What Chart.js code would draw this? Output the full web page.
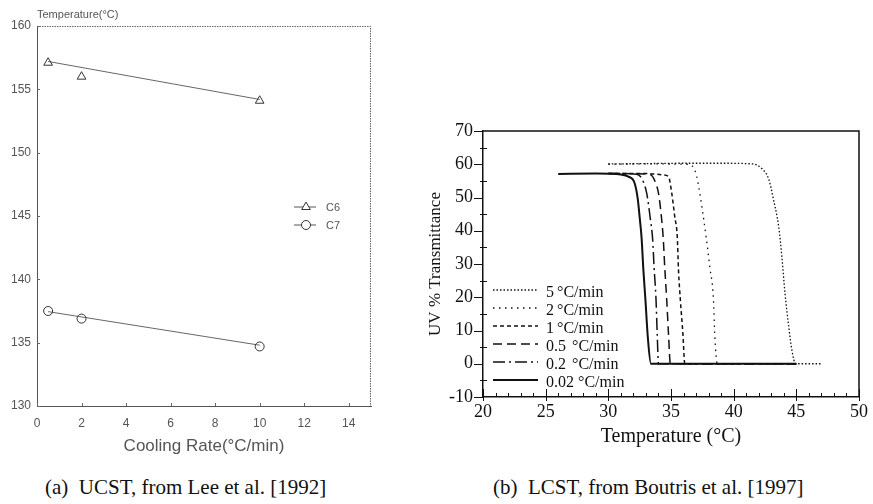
<!DOCTYPE html>
<html>
<head>
<meta charset="utf-8">
<script src="https://cdn.jsdelivr.net/npm/chart.js@4.4.0/dist/chart.umd.min.js"></script>
<style>
  body { margin: 0; background: #fff; width: 873px; height: 504px; position: relative; overflow: hidden; }
  canvas { position: absolute; }
  #chartA { left: 0; top: 0; }
  #chartB { left: 400px; top: 100px; }
  .cap { position: absolute; top: 475px; font: 21px "Liberation Serif", "Times New Roman", serif; line-height: 24px; color: #111; white-space: pre; }
</style>
</head>
<body>
<canvas id="chartA" width="385" height="470"></canvas>
<canvas id="chartB" width="473" height="360"></canvas>
<div class="cap" style="left:45px">(a)  UCST, from Lee et al. [1992]</div>
<div class="cap" style="left:493px">(b)  LCST, from Boutris et al. [1997]</div>
<script>
"use strict";
const serif = '"Liberation Serif", "Times New Roman", serif';
const sans = '"Liberation Sans", Arial, sans-serif';

// (a) UCST vs cooling rate
const coolingRate = [0.5, 2, 10];
const tempC6 = [157.1, 156.0, 154.1];
const tempC7 = [137.5, 136.9, 134.7];
const fitRate = [0.5, 10];
const fitC6 = [157.2, 154.2];
const fitC7 = [137.45, 134.8];
const rateTicks = [0, 2, 4, 6, 8, 10, 12, 14];
const ucstTicks = [130, 135, 140, 145, 150, 155, 160];

// (b) LCST transmittance curves, one pair of arrays per heating rate
const rateLabels = ["5", "2", "1", "0.5", "0.2", "0.02"];
const temp5 = [30, 33, 36, 39, 41.5, 42.3, 42.8, 43.2, 43.6, 43.85, 44.1, 44.4, 44.65, 44.95, 45.5, 47];
const uv5 = [60.1, 60.2, 60.3, 60.3, 60.1, 58.5, 55.5, 49, 41, 32, 21, 11, 4, 0, 0, 0];
const temp2 = [30, 33, 36.3, 36.8, 37.05, 37.3, 37.58, 37.8, 38.1, 38.38, 38.5, 38.7, 45];
const uv2 = [60, 60.1, 60, 59, 56.3, 51.3, 44.2, 38.2, 29, 19.8, 8.1, 0, 0];
const temp1 = [30, 33, 34.4, 34.8, 35.06, 35.3, 35.5, 35.6, 35.75, 35.95, 36.1, 45];
const uv1 = [57.2, 57.2, 56.8, 56.3, 51.3, 44.2, 38.2, 28, 19, 9, 0, 0];
const temp05 = [30, 33, 33.4, 33.73, 34.0, 34.26, 34.39, 34.5, 34.65, 34.8, 34.95, 45];
const uv05 = [57.2, 57.1, 56.8, 54.8, 51.3, 43.2, 37.2, 29, 19.8, 9, 0, 0];
const temp02 = [30, 32, 32.4, 32.66, 33.06, 33.33, 33.54, 33.65, 33.8, 33.9, 34.0, 45];
const uv02 = [57.2, 57.1, 56.8, 55.8, 51.3, 44.2, 37.2, 29, 19.8, 9, 0, 0];
const temp002 = [26, 29, 31, 31.6, 32.1, 32.35, 32.5, 32.65, 32.8, 32.95, 33.15, 33.4, 45];
const uv002 = [57.1, 57.2, 56.9, 56.3, 54.3, 49.5, 44, 38, 28, 19.8, 8, 0, 0];
const lcstXTicks = [20, 25, 30, 35, 40, 45, 50];
const lcstYTicks = [-10, 0, 10, 20, 30, 40, 50, 60, 70];

function pts(xs, ys) {
  return xs.map((x, i) => ({ x: x, y: ys[i] }));
}

function drawMarker(ctx, style, r, x, y) {
  if (Chart.helpers && Chart.helpers.drawPoint) {
    Chart.helpers.drawPoint(ctx, { pointStyle: style, radius: r, borderWidth: 1, rotation: 0 }, x, y);
  }
}

//#region chart (a)
const frameA = {
  id: "frameA",
  afterDraw(chart) {
    const { ctx, chartArea: a, scales: { x, y } } = chart;
    ctx.save();
    ctx.strokeStyle = "#666";
    ctx.lineWidth = 1;
    ctx.setLineDash([1.5, 1]);
    ctx.beginPath();
    ctx.moveTo(a.left, a.top + 0.5);
    ctx.lineTo(a.right - 0.5, a.top + 0.5);
    ctx.lineTo(a.right - 0.5, a.bottom);
    ctx.stroke();
    ctx.setLineDash([]);
    // small inward ticks
    ctx.beginPath();
    rateTicks.forEach((v) => {
      const px = Math.round(x.getPixelForValue(v)) + 0.5;
      ctx.moveTo(px, a.bottom);
      ctx.lineTo(px, a.bottom - 3);
    });
    ucstTicks.forEach((v) => {
      const py = Math.round(y.getPixelForValue(v)) + 0.5;
      ctx.moveTo(a.left, py);
      ctx.lineTo(a.left + 3, py);
    });
    ctx.stroke();
    // unit caption above the axis
    ctx.fillStyle = "#555";
    ctx.font = "11px " + sans;
    ctx.textAlign = "left";
    ctx.textBaseline = "alphabetic";
    ctx.fillText("Temperature(\u00b0C)", a.left, a.top - 8);
    // legend
    const items = chart.data.datasets.filter((d) => d.legend);
    items.forEach((d, i) => {
      const yy = a.top + 181 + i * 18;
      ctx.strokeStyle = "#555";
      ctx.beginPath();
      ctx.moveTo(a.left + 257, yy);
      ctx.lineTo(a.left + 279, yy);
      ctx.stroke();
      ctx.strokeStyle = "#333";
      ctx.fillStyle = "#fff";
      drawMarker(ctx, d.pointStyle, d.pointRadius, a.left + 269, yy);
      ctx.fillStyle = "#555";
      ctx.textBaseline = "middle";
      ctx.fillText(d.label, a.left + 289, yy + 1);
    });
    ctx.restore();
  }
};

new Chart(document.getElementById("chartA"), {
  type: "scatter",
  data: {
    datasets: [
      { label: "C6", legend: true, data: pts(coolingRate, tempC6), showLine: false,
        pointStyle: "triangle", pointRadius: 5, borderColor: "#333", backgroundColor: "rgba(0,0,0,0)", borderWidth: 1 },
      { label: "C7", legend: true, data: pts(coolingRate, tempC7), showLine: false,
        pointStyle: "circle", pointRadius: 4.5, borderColor: "#333", backgroundColor: "rgba(0,0,0,0)", borderWidth: 1 },
      { label: "C6 fit", data: pts(fitRate, fitC6), showLine: true, pointRadius: 0,
        borderColor: "#666", borderWidth: 1 },
      { label: "C7 fit", data: pts(fitRate, fitC7), showLine: true, pointRadius: 0,
        borderColor: "#666", borderWidth: 1 }
    ]
  },
  options: {
    responsive: false,
    animation: false,
    layout: { padding: { top: 26, right: 14, left: 0, bottom: 0 } },
    plugins: { legend: { display: false }, tooltip: { enabled: false } },
    scales: {
      x: {
        type: "linear", min: 0, max: 15,
        ticks: { stepSize: 2, includeBounds: false, autoSkip: false, maxRotation: 0, padding: 10,
          color: "#555", font: { family: sans, size: 12 } },
        grid: { display: false, drawTicks: false, tickLength: 0 },
        border: { display: true, color: "#555", width: 1 },
        title: { display: true, text: "Cooling Rate(\u00b0C/min)", color: "#555",
          font: { family: sans, size: 17 }, padding: { top: 0, bottom: 13 } },
        afterFit(s) { s.height = 64; }
      },
      y: {
        type: "linear", min: 130, max: 160,
        ticks: { stepSize: 5, autoSkip: false, padding: 6, color: "#555", font: { family: sans, size: 12 } },
        grid: { display: false, drawTicks: false, tickLength: 0 },
        border: { display: true, color: "#555", width: 1 },
        afterFit(s) { s.width = 37; }
      }
    }
  },
  plugins: [frameA]
});
//#endregion

//#region chart (b)
const frameB = {
  id: "frameB",
  afterDraw(chart) {
    const { ctx, chartArea: a, scales: { x, y } } = chart;
    ctx.save();
    ctx.strokeStyle = "#111";
    ctx.lineWidth = 1.5;
    ctx.beginPath();
    ctx.moveTo(a.left, a.top);
    ctx.lineTo(a.right, a.top);
    ctx.lineTo(a.right, a.bottom);
    ctx.stroke();
    ctx.lineWidth = 1;
    ctx.beginPath();
    for (let v = 20; v <= 50; v++) {
      const px = Math.round(x.getPixelForValue(v)) + 0.5;
      const major = lcstXTicks.includes(v);
      ctx.moveTo(px, a.bottom + (major ? 4 : 0));
      ctx.lineTo(px, a.bottom - (major ? 8 : 4));
    }
    for (let v = -10; v <= 70; v += 5) {
      const py = Math.round(y.getPixelForValue(v)) + 0.5;
      const major = lcstYTicks.includes(v);
      ctx.moveTo(a.left - (major ? 9 : 3), py);
      ctx.lineTo(a.left + (major ? 0 : 4), py);
    }
    ctx.stroke();
    // legend
    ctx.fillStyle = "#111";
    ctx.font = "16px " + serif;
    ctx.textBaseline = "middle";
    ctx.textAlign = "left";
    chart.data.datasets.forEach((d, i) => {
      const yy = a.bottom - 104 + i * 18;
      ctx.lineWidth = d.borderWidth;
      ctx.setLineDash(d.borderDash || []);
      ctx.beginPath();
      ctx.moveTo(a.left + 10, yy - 3);
      ctx.lineTo(a.left + 55, yy - 3);
      ctx.stroke();
      ctx.setLineDash([]);
      const lbl = rateLabels[i];
      ctx.fillText(lbl, a.left + 63, yy);
      const ux = lbl.includes(".") ? Math.max(a.left + 89, a.left + 63 + ctx.measureText(lbl).width + 4) : a.left + 74;
      ctx.fillText("\u00b0C/min", ux, yy);
    });
    ctx.restore();
  }
};

const lineBase = { pointRadius: 0, fill: false, borderColor: "#111", cubicInterpolationMode: "monotone" };

new Chart(document.getElementById("chartB"), {
  type: "line",
  data: {
    datasets: [
      Object.assign({ label: "5", data: pts(temp5, uv5), borderWidth: 1.3, borderDash: [1.5, 2] }, lineBase),
      Object.assign({ label: "2", data: pts(temp2, uv2), borderWidth: 1.3, borderDash: [1.5, 4.5] }, lineBase),
      Object.assign({ label: "1", data: pts(temp1, uv1), borderWidth: 1.5, borderDash: [4, 3] }, lineBase),
      Object.assign({ label: "0.5", data: pts(temp05, uv05), borderWidth: 1.5, borderDash: [9, 5] }, lineBase),
      Object.assign({ label: "0.2", data: pts(temp02, uv02), borderWidth: 1.5, borderDash: [12, 4, 2, 4] }, lineBase),
      Object.assign({ label: "0.02", data: pts(temp002, uv002), borderWidth: 2, borderDash: [] }, lineBase)
    ]
  },
  options: {
    responsive: false,
    animation: false,
    layout: { padding: { top: 31, right: 14, left: 0, bottom: 0 } },
    plugins: { legend: { display: false }, tooltip: { enabled: false } },
    scales: {
      x: {
        type: "linear", min: 20, max: 50,
        ticks: { stepSize: 5, autoSkip: false, maxRotation: 0, padding: 4, color: "#111",
          font: { family: serif, size: 18 } },
        grid: { display: false, drawTicks: false, tickLength: 0 },
        border: { display: true, color: "#111", width: 1.5 },
        title: { display: true, text: "Temperature (\u00b0C)", color: "#111",
          font: { family: serif, size: 20 }, padding: { top: 0, bottom: 11 } },
        afterFit(s) { s.height = 63; }
      },
      y: {
        type: "linear", min: -10, max: 70,
        ticks: { stepSize: 10, autoSkip: false, padding: 10, color: "#111", font: { family: serif, size: 18 } },
        grid: { display: false, drawTicks: false, tickLength: 0 },
        border: { display: true, color: "#111", width: 1.5 },
        title: { display: true, text: "UV % Transmittance", color: "#111",
          font: { family: serif, size: 17 }, padding: { top: 25, bottom: 0 } },
        afterFit(s) { s.width = 83; }
      }
    }
  },
  plugins: [frameB]
});
//#endregion
</script>
</body>
</html>
